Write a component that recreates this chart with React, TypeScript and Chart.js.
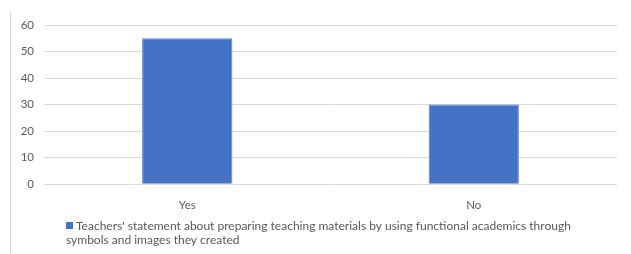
import React, { useEffect, useRef } from "react";
import { Chart, registerables } from "chart.js";

Chart.register(...registerables);

const categories = ["Yes", "No"];
const seriesLabel =
  "Teachers' statement about preparing teaching materials by using functional academics through symbols and images they created";
const seriesValues = [55, 30];
const legendLines = [
  "Teachers' statement about preparing teaching materials by using functional academics through",
  "symbols and images they created",
];

const FONT = "Lato, 'Open Sans', sans-serif";

const legendPlugin = {
  id: "wrappedLegend",
  afterDraw(chart: any) {
    const ctx = chart.ctx;
    const ds = chart.data.datasets[0];
    ctx.save();
    ctx.fillStyle = ds.backgroundColor;
    ctx.fillRect(66, 222, 7, 7);
    ctx.fillStyle = "#595959";
    ctx.font = `12px ${FONT}`;
    ctx.textBaseline = "middle";
    ctx.textAlign = "left";
    ctx.fillText(legendLines[0], 76, 226);
    ctx.fillText(legendLines[1], 66, 240);
    ctx.restore();
  },
};

export default function App() {
  const ref = useRef<HTMLCanvasElement>(null);
  useEffect(() => {
    const chart = new Chart(ref.current!, {
      type: "bar",
      data: {
        labels: categories,
        datasets: [
          {
            label: seriesLabel,
            data: seriesValues,
            backgroundColor: "#4472C4",
            borderColor: "#5b85d0",
            borderWidth: 1,
            barPercentage: 0.63,
            categoryPercentage: 0.5,
          },
        ],
      },
      options: {
        responsive: false,
        animation: false,
        layout: { padding: { top: 25, right: 14, bottom: 36, left: 0 } },
        plugins: { legend: { display: false }, tooltip: { enabled: false } },
        scales: {
          x: {
            grid: { display: false },
            border: { display: false },
            ticks: { color: "#595959", font: { family: FONT, size: 11.5 }, padding: 6 },
          },
          y: {
            min: 0,
            max: 60,
            ticks: { stepSize: 10, color: "#595959", font: { family: FONT, size: 11.5 }, padding: 10 },
            grid: { color: "#d9d9d9", lineWidth: 1, drawTicks: false },
            border: { display: false },
            afterFit(scale: any) {
              scale.width = 44;
            },
          },
        },
      },
      plugins: [legendPlugin],
    });
    return () => chart.destroy();
  }, []);
  return (
    <div style={{ position: "absolute", left: 0, top: 0, width: 631, height: 254, background: "#fff" }}>
      <div style={{ position: "absolute", left: 10, top: 11, width: 1, height: 243, background: "#d9d9d9" }} />
      <canvas ref={ref} width={631} height={254} style={{ position: "absolute", left: 0, top: 0 }} />
    </div>
  );
}
